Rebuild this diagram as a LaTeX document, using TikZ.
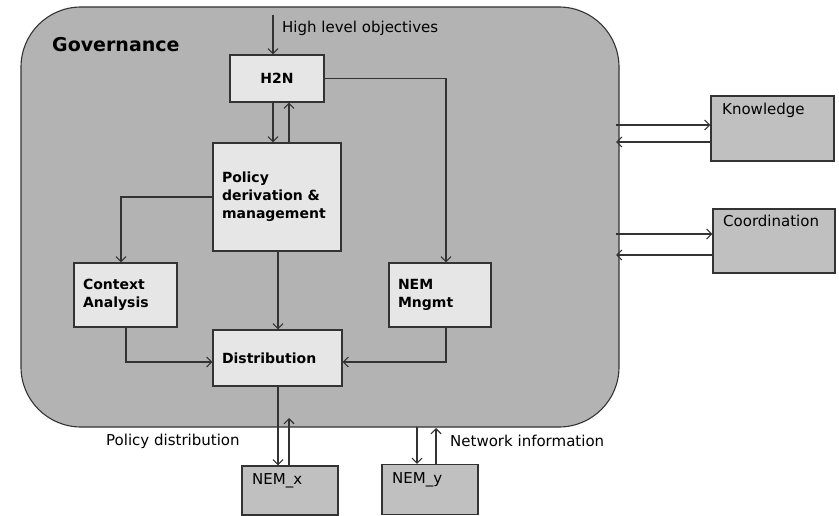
\documentclass[tikz,border=0pt]{standalone}
\usepackage{fontspec}
\setmainfont{DejaVu Sans}
\usetikzlibrary{arrows.meta}
\definecolor{govfill}{HTML}{B3B3B3}
\definecolor{outfill}{HTML}{C0C0C0}
\definecolor{infill}{HTML}{E6E6E6}
\definecolor{edge}{HTML}{333333}
\tikzset{
  govbox/.style={draw=edge, fill=govfill, line width=1.1pt, rounded corners=60pt},
  inbox/.style={draw=edge, fill=infill, line width=1.2pt, inner xsep=9pt, inner ysep=0pt,
     font=\fontsize{14}{18}\selectfont\bfseries, align=left},
  outbox/.style={draw=edge, fill=outfill, line width=1.2pt, inner sep=0pt},
  boxlabel/.style={font=\fontsize{15}{18}\selectfont, inner sep=0pt, anchor=north west},
  lbl/.style={font=\fontsize{15}{18}\selectfont, inner sep=0pt},
  conn/.style={draw=edge, line width=1.2pt, -{Straight Barb[length=5pt,width=10pt,line width=1.1pt]}},
}
\begin{document}
\begin{tikzpicture}[x=1pt,y=-1pt]
\useasboundingbox (0,0) rectangle (839,516);
% governance container
\draw[govbox] (21,7) rectangle (619,427);
\node[font=\fontsize{19}{22}\selectfont\bfseries, inner sep=0pt, anchor=west] (gov) at (52,45) {Governance};

% inner boxes
\node[inbox, minimum width=94pt, minimum height=47pt, text width=76pt, align=center] (h2n) at (277,78.5) {H2N\hspace*{8pt}};
\node[inbox, minimum width=128pt, minimum height=108pt, text width=110pt] (pol) at (277,197) {Policy\\derivation \&\\management};
\node[inbox, minimum width=103pt, minimum height=64pt, text width=85pt] (ctx) at (125.5,295) {Context\\Analysis};
\node[inbox, minimum width=102pt, minimum height=64pt, text width=84pt] (nem) at (440,295) {NEM\\Mngmt};
\node[inbox, minimum width=129pt, minimum height=56pt, text width=111pt] (dist) at (277.5,358) {Distribution};

% outer boxes
\node[outbox, minimum width=123pt, minimum height=65pt] (know) at (772.5,128.5) {};
\node[boxlabel] (knowt) at (722,103) {Knowledge};
\node[outbox, minimum width=122pt, minimum height=64pt] (coord) at (774,241) {};
\node[boxlabel] (coordt) at (723,215) {Coordination};
\node[outbox, minimum width=96pt, minimum height=49pt] (nemx) at (290,490.5) {};
\node[boxlabel] (nemxt) at (252,473) {NEM\_x};
\node[outbox, minimum width=96pt, minimum height=50pt] (nemy) at (430,489.5) {};
\node[boxlabel] (nemyt) at (392,472) {NEM\_y};

% free-end coordinates
\coordinate (hlo) at (273,15);
\coordinate (gk1) at (616,125);
\coordinate (gk2) at (616,142);
\coordinate (gc1) at (616,234);
\coordinate (gc2) at (616,255);
\coordinate (gx) at (289,418);
\coordinate (gy1) at (417,427);
\coordinate (gy2) at (436,428);

% labels
\node[lbl, anchor=west] (hlot) at (282,28) {High level objectives};
\node[lbl, anchor=west] (pdt) at (106,441) {Policy distribution};
\node[lbl, anchor=west] (nit) at (450,441) {Network information};

% connectors
\draw[conn] (hlo) -- (hlo |- h2n.north);
\draw[conn] (273,0 |- h2n.south) -- (273,0 |- pol.north);
\draw[conn] (289,0 |- pol.north) -- (289,0 |- h2n.south);
\draw[conn] (h2n.east) -- (446,0 |- h2n.east) -- (446,0 |- nem.north);
\draw[conn] (pol.west |- 0,197) -- (121,197) -- (121,0 |- ctx.north);
\draw[conn] (278,0 |- pol.south) -- (278,0 |- dist.north);
\draw[conn] (126,0 |- ctx.south) -- (126,362) -- (dist.west |- 0,362);
\draw[conn] (446,0 |- nem.south) -- (446,362) -- (dist.east |- 0,362);
\draw[conn] (278,0 |- dist.south) -- (278,0 |- nemx.north);
\draw[conn] (289,0 |- nemx.north) -- (gx);
\draw[conn] (gy1) -- (gy1 |- nemy.north);
\draw[conn] (gy2 |- nemy.north) -- (gy2);
\draw[conn] (gk1) -- (know.west |- gk1);
\draw[conn] (know.west |- gk2) -- (gk2);
\draw[conn] (gc1) -- (coord.west |- gc1);
\draw[conn] (coord.west |- gc2) -- (gc2);
\end{tikzpicture}
\end{document}
